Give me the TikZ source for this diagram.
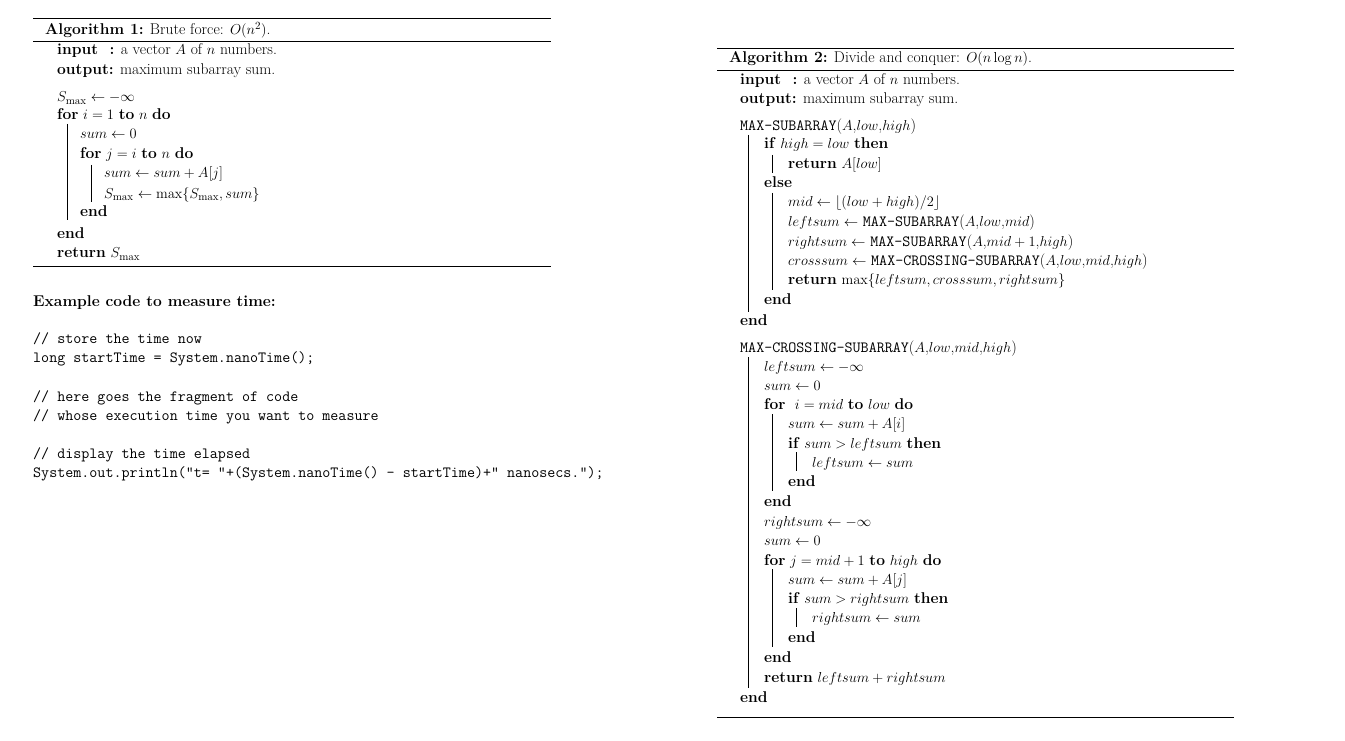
\documentclass[tikz,border=0pt]{standalone}
\usepackage{amsmath}
\begin{document}
\begin{tikzpicture}[x=1pt,y=-1pt,
  t/.style={anchor=base west,inner sep=0pt,font=\fontsize{15.6}{18}\selectfont},
  rl/.style={line width=0.8pt},
  bl/.style={line width=0.6pt}]
\useasboundingbox (0,0) rectangle (1345,741);
% Algorithm 1
\draw[rl] (33,18) -- (551,18);
\draw[rl] (33,41) -- (551,41);
\draw[rl] (33,266) -- (551,266);
\node[t] (a1) at (45,35) {\textbf{Algorithm 1:} Brute force: $O(n^2)$.};
\node[t] (a2) at (57,55) {\textbf{input\hphantom{t}} \textbf{:} a vector $A$ of $n$ numbers.};
\node[t] (a3) at (57,75) {\textbf{output:} maximum subarray sum.};
\node[t] (a4) at (57,102) {$S_{\max}\leftarrow-\infty$};
\node[t] (a5) at (57,120) {\textbf{for} $i=1$ \textbf{to} $n$ \textbf{do}};
\node[t] (a6) at (80,139) {$sum\leftarrow0$};
\node[t] (a7) at (80,159) {\textbf{for} $j=i$ \textbf{to} $n$ \textbf{do}};
\node[t] (a8) at (104,178) {$sum\leftarrow sum+A[j]$};
\node[t] (a9) at (104,198) {$S_{\max}\leftarrow\max\{S_{\max},sum\}$};
\node[t] (a10) at (80,217) {\textbf{end}};
\node[t] (a11) at (57,238) {\textbf{end}};
\node[t] (a12) at (57,258) {\textbf{return} $S_{\max}$};
\draw[bl] (67,124) -- (67,220);
\draw[bl] (91,165) -- (91,202);
\node[t] (ex) at (33,306) {\textbf{Example code to measure time:}};
\node[t] (c1) at (33,343) {\texttt{// store the time now}};
\node[t] (c2) at (33,362) {\texttt{long startTime = System.nanoTime();}};
\node[t] (c3) at (33,401) {\texttt{// here goes the fragment of code}};
\node[t] (c4) at (33,420) {\texttt{// whose execution time you want to measure}};
\node[t] (c5) at (33,458) {\texttt{// display the time elapsed}};
\node[t] (c6) at (33,477) {\texttt{System.out.println("t= "+(System.nanoTime() - startTime)+" nanosecs.");}};
% Algorithm 2
\draw[rl] (717,48) -- (1234,48);
\draw[rl] (717,70) -- (1234,70);
\draw[rl] (717,717) -- (1234,717);
\node[t] (b1) at (729,63) {\textbf{Algorithm 2:} Divide and conquer: $O(n\log n)$.};
\node[t] (b2) at (740,85) {\textbf{input\hphantom{t}} \textbf{:} a vector $A$ of $n$ numbers.};
\node[t] (b3) at (740,104) {\textbf{output:} maximum subarray sum.};
\node[t] (b4) at (740,131) {\texttt{MAX-SUBARRAY}($A$,$low$,$high$)};
\node[t] (b5) at (764,149) {\textbf{if} $high=low$ \textbf{then}};
\node[t] (b6) at (788,169) {\textbf{return} $A[low]$};
\node[t] (b7) at (764,188) {\textbf{else}};
\node[t] (b8) at (788,207) {$mid\leftarrow\lfloor(low+high)/2\rfloor$};
\node[t] (b9) at (788,226) {$leftsum\leftarrow$ \texttt{MAX-SUBARRAY}($A$,$low$,$mid$)};
\node[t] (b10) at (788,246) {$rightsum\leftarrow$ \texttt{MAX-SUBARRAY}($A$,$mid+1$,$high$)};
\node[t] (b11) at (788,265) {$crosssum\leftarrow$ \texttt{MAX-CROSSING-SUBARRAY}($A$,$low$,$mid$,$high$)};
\node[t] (b12) at (788,284) {\textbf{return} $\max\{leftsum,crosssum,rightsum\}$};
\node[t] (b13) at (764,304) {\textbf{end}};
\node[t] (b14) at (740,325) {\textbf{end}};
\draw[bl] (748,135) -- (748,312);
\draw[bl] (772,155) -- (772,173);
\draw[bl] (772,193) -- (772,290);
\node[t] (d1) at (740,352) {\texttt{MAX-CROSSING-SUBARRAY}($A$,$low$,$mid$,$high$)};
\node[t] (d2) at (764,371) {$leftsum\leftarrow-\infty$};
\node[t] (d3) at (764,390) {$sum\leftarrow0$};
\node[t] (d4) at (764,409) {\textbf{for} \ $i=mid$ \textbf{to} $low$ \textbf{do}};
\node[t] (d5) at (788,428) {$sum\leftarrow sum+A[i]$};
\node[t] (d6) at (788,448) {\textbf{if} $sum>leftsum$ \textbf{then}};
\node[t] (d7) at (812,467) {$leftsum\leftarrow sum$};
\node[t] (d8) at (788,486) {\textbf{end}};
\node[t] (d9) at (764,506) {\textbf{end}};
\node[t] (d10) at (764,526) {$rightsum\leftarrow-\infty$};
\node[t] (d11) at (764,545) {$sum\leftarrow0$};
\node[t] (d12) at (764,565) {\textbf{for} $j=mid+1$ \textbf{to} $high$ \textbf{do}};
\node[t] (d13) at (788,584) {$sum\leftarrow sum+A[j]$};
\node[t] (d14) at (788,603) {\textbf{if} $sum>rightsum$ \textbf{then}};
\node[t] (d15) at (812,622) {$rightsum\leftarrow sum$};
\node[t] (d16) at (788,642) {\textbf{end}};
\node[t] (d17) at (764,662) {\textbf{end}};
\node[t] (d18) at (764,682) {\textbf{return} $leftsum+rightsum$};
\node[t] (d19) at (740,702) {\textbf{end}};
\draw[bl] (748,357) -- (748,688);
\draw[bl] (772,414) -- (772,491);
\draw[bl] (796,452) -- (796,471);
\draw[bl] (772,569) -- (772,647);
\draw[bl] (796,608) -- (796,627);
\end{tikzpicture}
\end{document}
